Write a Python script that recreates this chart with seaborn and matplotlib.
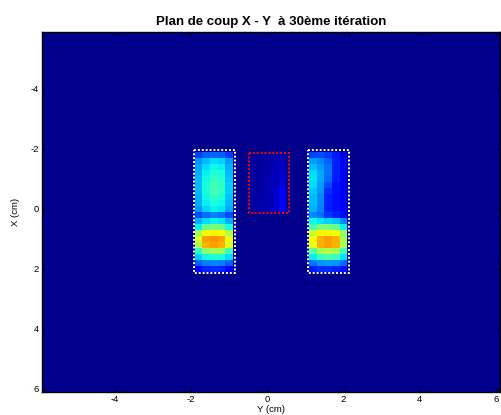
import numpy as np
import matplotlib
matplotlib.use("Agg")
import matplotlib.pyplot as plt
from matplotlib.patches import Rectangle
import seaborn as sns

plt.rcParams['font.family'] = ['Liberation Sans', 'DejaVu Sans']

# grille 0.2 cm, de -5.9 a 6.1 cm sur les deux axes
step = 0.2
edge0 = -5.9
n = 60
fond = 0.013

ticks_cm = [-4, -2, 0, 2, 4, 6]
tick_labels = ['-4', '-2', '0', '2', '4', '6']

# bloc gauche : Y -1.9..-0.9 cm, X -1.9..2.1 cm
bloc_gauche = [
    [0.19, 0.22, 0.23, 0.22, 0.18],
    [0.27, 0.31, 0.34, 0.33, 0.28],
    [0.29, 0.34, 0.37, 0.36, 0.30],
    [0.30, 0.36, 0.39, 0.38, 0.31],
    [0.31, 0.37, 0.41, 0.40, 0.32],
    [0.31, 0.38, 0.43, 0.41, 0.33],
    [0.31, 0.38, 0.43, 0.41, 0.33],
    [0.30, 0.37, 0.41, 0.39, 0.32],
    [0.30, 0.36, 0.38, 0.37, 0.31],
    [0.28, 0.33, 0.36, 0.35, 0.29],
    [0.20, 0.23, 0.25, 0.24, 0.20],
    [0.30, 0.34, 0.36, 0.35, 0.30],
    [0.36, 0.48, 0.50, 0.49, 0.38],
    [0.55, 0.64, 0.65, 0.64, 0.57],
    [0.60, 0.74, 0.75, 0.74, 0.63],
    [0.56, 0.72, 0.74, 0.72, 0.62],
    [0.40, 0.52, 0.55, 0.54, 0.43],
    [0.33, 0.37, 0.39, 0.38, 0.34],
    [0.22, 0.25, 0.26, 0.25, 0.22],
    [0.13, 0.16, 0.17, 0.16, 0.13],
]

# bloc droit : Y 1.1..2.1 cm, X -1.9..2.1 cm
bloc_droit = [
    [0.19, 0.20, 0.18, 0.15, 0.10],
    [0.28, 0.26, 0.22, 0.16, 0.10],
    [0.31, 0.28, 0.24, 0.16, 0.10],
    [0.34, 0.29, 0.24, 0.16, 0.10],
    [0.35, 0.29, 0.23, 0.15, 0.10],
    [0.34, 0.28, 0.20, 0.14, 0.10],
    [0.32, 0.27, 0.17, 0.14, 0.10],
    [0.31, 0.26, 0.16, 0.14, 0.10],
    [0.31, 0.26, 0.16, 0.14, 0.10],
    [0.30, 0.25, 0.16, 0.14, 0.11],
    [0.26, 0.24, 0.18, 0.16, 0.13],
    [0.37, 0.35, 0.33, 0.32, 0.26],
    [0.44, 0.50, 0.50, 0.47, 0.36],
    [0.59, 0.65, 0.65, 0.64, 0.53],
    [0.64, 0.72, 0.74, 0.72, 0.55],
    [0.64, 0.73, 0.74, 0.72, 0.56],
    [0.45, 0.55, 0.57, 0.55, 0.42],
    [0.36, 0.42, 0.44, 0.42, 0.35],
    [0.24, 0.27, 0.28, 0.27, 0.23],
    [0.15, 0.17, 0.17, 0.16, 0.14],
]

# bloc central : Y -0.5..0.5 cm, X -1.9..0.1 cm
bloc_centre = [
    [0.02, 0.02, 0.03, 0.03, 0.04],
    [0.03, 0.03, 0.03, 0.04, 0.05],
    [0.03, 0.03, 0.03, 0.05, 0.06],
    [0.03, 0.03, 0.03, 0.05, 0.06],
    [0.03, 0.03, 0.04, 0.05, 0.07],
    [0.03, 0.03, 0.04, 0.05, 0.08],
    [0.03, 0.03, 0.04, 0.06, 0.10],
    [0.03, 0.04, 0.04, 0.06, 0.11],
    [0.03, 0.04, 0.04, 0.06, 0.11],
    [0.03, 0.04, 0.04, 0.06, 0.10],
]

# (Y debut, X debut) de chaque bloc en cm
pos_blocs = [(-1.9, -1.9), (1.1, -1.9), (-0.5, -1.9)]

# cadres pointilles : Y0, Y1, X0, X1 (cm), couleur
cadres = [
    (-1.92, -0.85, -1.95, 2.12, 'white'),
    (1.08, 2.15, -1.95, 2.12, 'white'),
    (-0.47, 0.58, -1.87, 0.13, 'red'),
]


def idx(v):
    return (v - edge0) / step


carte = np.full((n, n), fond)
for bloc, (y0, x0) in zip([bloc_gauche, bloc_droit, bloc_centre], pos_blocs):
    b = np.array(bloc)
    r0, c0 = int(round(idx(x0))), int(round(idx(y0)))
    carte[r0:r0 + b.shape[0], c0:c0 + b.shape[1]] = b

fig = plt.figure(figsize=(5.02, 4.15), dpi=100)
ax = fig.add_axes([42 / 502, 1 - 392 / 415, 458 / 502, 360 / 415])
sns.heatmap(carte, cmap='jet', vmin=0, vmax=1, cbar=False, ax=ax)

for s in ax.spines.values():
    s.set_visible(True)
    s.set_color('black')
    s.set_linewidth(1.0)

ax.set_xticks([idx(t) for t in ticks_cm])
ax.set_xticklabels(tick_labels, rotation=0)
ax.set_yticks([idx(t) for t in ticks_cm])
ax.set_yticklabels(tick_labels, rotation=0)
ax.tick_params(direction='in', top=True, right=True, length=3, width=0.6,
               labelsize=6.8, pad=2, colors='black')

for y0, y1, x0, x1, c in cadres:
    ax.add_patch(Rectangle((idx(y0), idx(x0)), idx(y1) - idx(y0), idx(x1) - idx(x0),
                           fill=False, edgecolor=c, linewidth=1.4,
                           linestyle=(0, (1, 1))))

ax.set_xlabel('Y (cm)', fontsize=6.8, labelpad=1)
ax.set_ylabel('X (cm)', fontsize=6.8, labelpad=8)
ax.set_title('Plan de coup X - Y  à 30ème itération', fontsize=9.5,
             fontweight='bold', pad=5)

fig.savefig('out.png', dpi=100)
